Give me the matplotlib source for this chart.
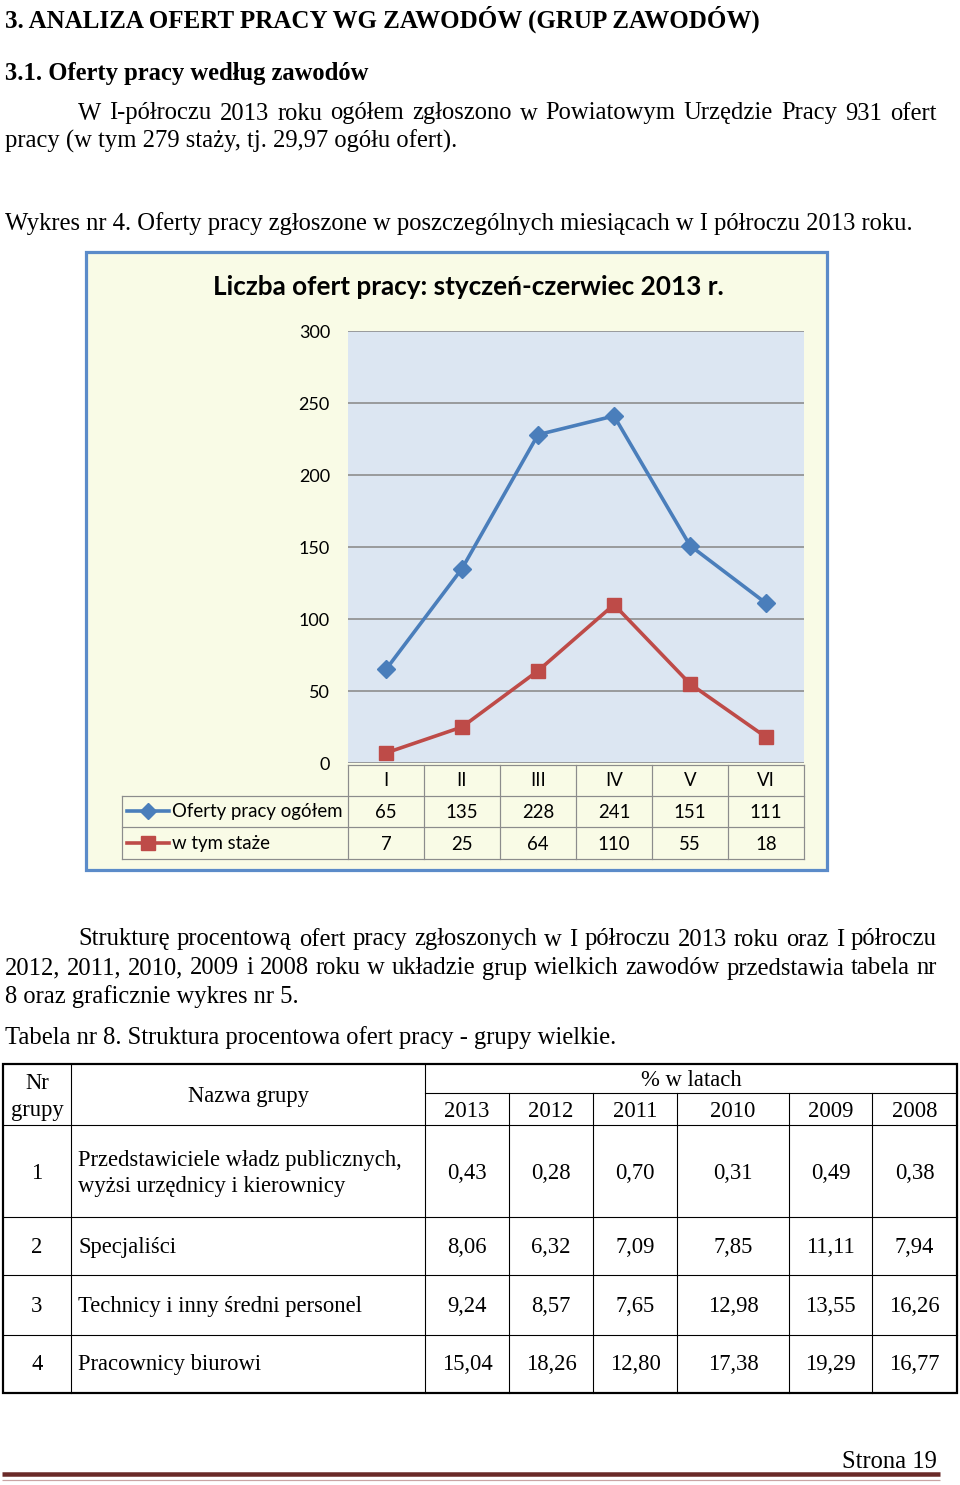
import matplotlib
matplotlib.use("Agg")
import matplotlib.pyplot as plt
from matplotlib.patches import Rectangle
from matplotlib.lines import Line2D

# ---------------- data ----------------
months = ["I", "II", "III", "IV", "V", "VI"]
oferty_ogolem = [65, 135, 228, 241, 151, 111]
w_tym_staze = [7, 25, 64, 110, 55, 18]
series_names = ["Oferty pracy ogółem", "w tym staże"]
y_ticks = [0, 50, 100, 150, 200, 250, 300]

years = ["2013", "2012", "2011", "2010", "2009", "2008"]
group_nr = ["1", "2", "3", "4"]
group_names = [["Przedstawiciele władz publicznych,", "wyżsi urzędnicy i kierownicy"],
               ["Specjaliści"],
               ["Technicy i inny średni personel"],
               ["Pracownicy biurowi"]]
row1 = ["0,43", "0,28", "0,70", "0,31", "0,49", "0,38"]
row2 = ["8,06", "6,32", "7,09", "7,85", "11,11", "7,94"]
row3 = ["9,24", "8,57", "7,65", "12,98", "13,55", "16,26"]
row4 = ["15,04", "18,26", "12,80", "17,38", "19,29", "16,77"]
table_rows = [row1, row2, row3, row4]

# ---------------- figure ----------------
W, H = 960, 1485
fig = plt.figure(figsize=(W / 100, H / 100), dpi=100)
fig.patch.set_facecolor("white")
ov = fig.add_axes([0, 0, 1, 1], zorder=0)
ov.set_xlim(0, W)
ov.set_ylim(H, 0)
ov.axis("off")

SERIF = "Liberation Serif"
SANS = "Lato"
BODY = 17.7
TAB = 16.3
CH = 13.4
PX = 0.72  # points per pixel
DY = 1.5   # small vertical nudge for serif text

def txt(x, y, s, **kw):
    kw.setdefault("family", SERIF)
    kw.setdefault("size", BODY)
    kw.setdefault("va", "center")
    kw.setdefault("color", "black")
    if kw["family"] == SERIF:
        y = y + DY
    return ov.text(x, y, s, **kw)

renderer = fig.canvas.get_renderer()

def justify(x0, x1, y, s, **kw):
    words = s.split()
    objs = [txt(0, y, w, ha="left", **kw) for w in words]
    widths = []
    inv = ov.transData.inverted()
    for o in objs:
        bb = o.get_window_extent(renderer)
        (a, _), (b, _) = inv.transform([[bb.x0, 0], [bb.x1, 0]])
        widths.append(b - a)
    gap = (x1 - x0 - sum(widths)) / max(len(words) - 1, 1)
    x = x0
    for o, w in zip(objs, widths):
        o.set_x(x)
        x += w + gap

# ---------------- page text ----------------
txt(5, 18, "3. ANALIZA OFERT PRACY WG ZAWODÓW (GRUP ZAWODÓW)", ha="left", weight="bold", size=18.0)
txt(5, 72, "3.1. Oferty pracy według zawodów", ha="left", weight="bold")
justify(78, 937, 112, "W I-półroczu 2013 roku ogółem zgłoszono w Powiatowym Urzędzie Pracy 931 ofert")
txt(5, 140, "pracy (w tym 279 staży, tj. 29,97 ogółu ofert).", ha="left")
txt(5, 222, "Wykres nr 4. Oferty pracy zgłoszone w poszczególnych miesiącach w I półroczu 2013 roku.", ha="left")

justify(78, 937, 938, "Strukturę procentową ofert pracy zgłoszonych w I półroczu 2013 roku oraz I półroczu")
justify(5, 937, 967, "2012, 2011, 2010, 2009 i 2008 roku w układzie grup wielkich zawodów przedstawia tabela nr")
txt(5, 995, "8 oraz graficznie wykres nr 5.", ha="left")
txt(5, 1036, "Tabela nr 8. Struktura procentowa ofert pracy - grupy wielkie.", ha="left")

# ---------------- chart frame ----------------
ov.add_patch(Rectangle((86, 252), 741, 618, facecolor="#F9FBE6",
                       edgecolor="#5B8BC9", linewidth=3.2 * PX, zorder=1))
txt(468, 287, "Liczba ofert pracy: styczeń-czerwiec 2013 r.", family=SANS,
    size=18.8, weight="bold", ha="center", zorder=3)

# plot area
L, R, T, B = 348, 804, 331, 763
ax = fig.add_axes([L / W, 1 - B / H, (R - L) / W, (B - T) / H], zorder=2)
ax.set_facecolor("#DCE6F2")
ax.set_xlim(-0.5, len(months) - 0.5)
ax.set_ylim(0, 300)
ax.set_yticks(y_ticks)
ax.set_yticklabels([str(v) for v in y_ticks], family=SANS, size=13)
ax.set_xticks([])
ax.tick_params(axis="y", length=0, pad=13)
for sp in ax.spines.values():
    sp.set_visible(False)
ax.yaxis.grid(True, color="#8A8A8A", linewidth=1.6 * PX)
ax.set_axisbelow(True)

xs = list(range(len(months)))
blue, red = "#4A7EBB", "#BE4B48"
ax.plot(xs, oferty_ogolem, color=blue, linewidth=3.6 * PX, marker="D",
        markersize=9.2, markerfacecolor=blue,
        markeredgecolor=blue, clip_on=False, zorder=3)
ax.plot(xs, w_tym_staze, color=red, linewidth=3.6 * PX, marker="s",
        markersize=9.6, markerfacecolor=red, markeredgecolor=red,
        clip_on=False, zorder=3)

# data table under chart
gcol = "#8C8C8C"
lw = 1.2 * PX
cw = (R - L) / len(months)
rows_y = [765, 796, 827, 859]
ov.add_line(Line2D([L, R], [rows_y[0], rows_y[0]], color=gcol, lw=lw, zorder=3))
for yy in rows_y[1:]:
    ov.add_line(Line2D([122, R], [yy, yy], color=gcol, lw=lw, zorder=3))
for k in range(len(months) + 1):
    ov.add_line(Line2D([L + k * cw] * 2, [rows_y[0], rows_y[3]], color=gcol, lw=lw, zorder=3))
ov.add_line(Line2D([122, 122], [rows_y[1], rows_y[3]], color=gcol, lw=lw, zorder=3))

for k, m in enumerate(months):
    cx = L + (k + 0.5) * cw
    txt(cx, 781, m, family=SANS, size=CH, ha="center", zorder=4)
    txt(cx, 812, str(oferty_ogolem[k]), family=SANS, size=CH, ha="center", zorder=4)
    txt(cx, 844, str(w_tym_staze[k]), family=SANS, size=CH, ha="center", zorder=4)

for yy, name, col, mk, ms in [(811, series_names[0], blue, "D", 8.5), (843, series_names[1], red, "s", 9.5)]:
    ov.add_line(Line2D([127, 169], [yy, yy], color=col, lw=3.6 * PX, zorder=4))
    ov.plot([148], [yy], marker=mk, color=col, markersize=ms, zorder=5)
    txt(172, yy + 1, name, family=SANS, size=CH, ha="left", zorder=4)

# ---------------- Table 8 ----------------
tl, tr, tt, tb = 3, 957, 1064, 1393
col_x = [3, 71, 425, 509, 593, 677, 789, 872, 957]
row_lines = [1125, 1217, 1275, 1335]
thin = 1.1 * PX
for yy in row_lines:
    ov.add_line(Line2D([tl, tr], [yy, yy], color="black", lw=thin))
ov.add_line(Line2D([425, tr], [1093, 1093], color="black", lw=thin))
ov.add_line(Line2D([71, 71], [tt, tb], color="black", lw=thin))
ov.add_line(Line2D([425, 425], [tt, tb], color="black", lw=thin))
for x in col_x[3:-1]:
    ov.add_line(Line2D([x, x], [1093, tb], color="black", lw=thin))
ov.add_patch(Rectangle((tl, tt), tr - tl, tb - tt, fill=False, edgecolor="black",
                       linewidth=2.2 * PX))

txt(37, 1082, "Nr", ha="center", size=TAB)
txt(37, 1109, "grupy", ha="center", size=TAB)
txt(248, 1095, "Nazwa grupy", ha="center", size=TAB)
txt(691, 1079, "% w latach", ha="center", size=TAB)
for k, yv in enumerate(years):
    txt((col_x[k + 2] + col_x[k + 3]) / 2, 1110, yv, ha="center", size=TAB)

row_cy = [1172, 1246, 1305, 1363]
for i in range(len(group_nr)):
    cy = row_cy[i]
    txt(37, cy, group_nr[i], ha="center", size=TAB)
    names = group_names[i]
    if len(names) == 1:
        txt(78, cy, names[0], ha="left", size=TAB)
    else:
        txt(78, cy - 13, names[0], ha="left", size=TAB)
        txt(78, cy + 13, names[1], ha="left", size=TAB)
    for k, v in enumerate(table_rows[i]):
        txt((col_x[k + 2] + col_x[k + 3]) / 2, cy, v, ha="center", size=TAB)

# ---------------- footer ----------------
txt(937, 1460, "Strona 19", ha="right")
ov.add_line(Line2D([2, 940], [1474, 1474], color="#6A2A28", lw=4.5 * PX, solid_capstyle="butt"))
ov.add_line(Line2D([2, 940], [1479.5, 1479.5], color="#C9A3A3", lw=1.2 * PX, solid_capstyle="butt"))

fig.savefig("out.png", dpi=100)
